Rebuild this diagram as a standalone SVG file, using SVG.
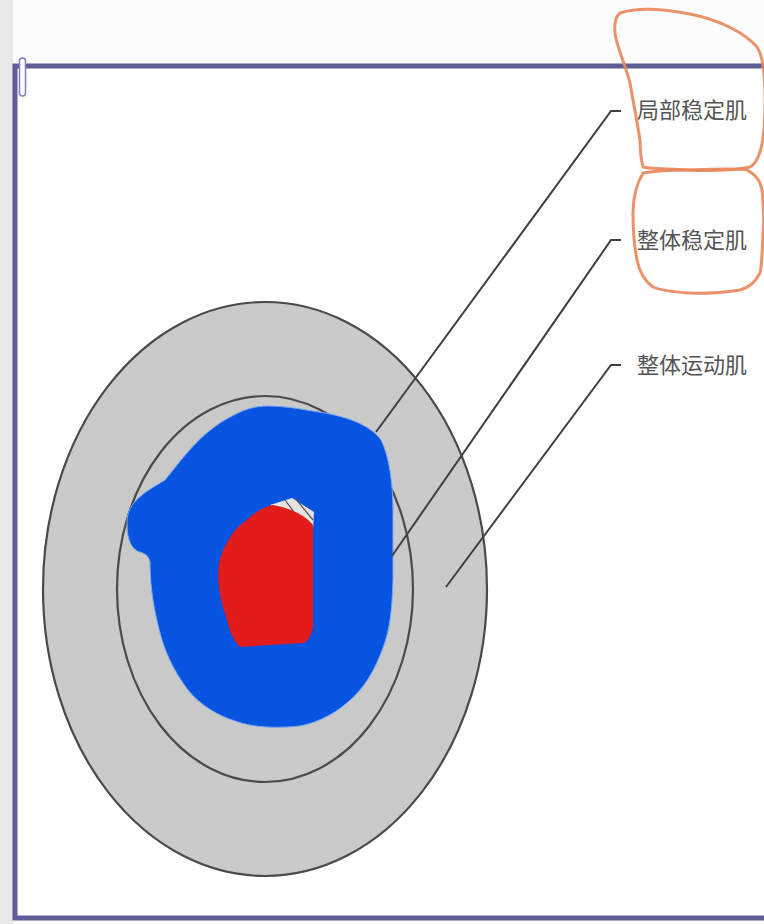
<svg xmlns="http://www.w3.org/2000/svg" width="764" height="924" viewBox="0 0 764 924">
<style>
.ring{stroke:#4a4a4a;stroke-width:2.2}
.lead{fill:none;stroke:#3f3f3f;stroke-width:2;stroke-linejoin:miter}
.lbl{font-family:"Noto Sans CJK SC","Noto Sans CJK JP",sans-serif;font-size:22px;fill:#555}
.loop{fill:none;stroke:#e8875a;stroke-width:3;stroke-linecap:round;stroke-linejoin:round;opacity:0.9}
</style>
<rect x="0" y="0" width="764" height="924" fill="#fcfcfc"/>
<rect x="0" y="0" width="13" height="924" fill="#e8e8e8"/>
<rect x="16" y="67" width="760" height="849" fill="#ffffff"/>
<g id="frame">
<rect x="15" y="66" width="770" height="852" fill="none" stroke="#5e5e96" stroke-width="5"/>
<rect x="19.5" y="58" width="6" height="38" rx="3" fill="#fff" stroke="#7c7cc4" stroke-width="1.5"/>
</g>
<g id="outer-ring">
<ellipse cx="265" cy="589" rx="222" ry="287" fill="#cacaca" class="ring"/>
</g>
<g id="inner-ring">
<ellipse cx="265" cy="589" rx="148" ry="193" fill="#c9c9c9" class="ring"/>
</g>
<g id="core">
<path d="M127,522 C127,502 145,492 165,480 C180,462 200,432 232,416 C245,409 255,406 268,406 C285,406 300,409 325,413 C352,418 372,427 381,440 C389,456 393,482 393,513 L393,580 C392,610 390,628 384,645 C376,668 365,688 348,702 C332,716 310,727 287,727 C265,728 250,726 238,722 C218,716 200,705 188,690 C175,672 165,655 158,625 C152,600 150,580 150,562 C148,553 142,553 137,551 C129,546 127,535 127,522 Z" fill="#0654e0" stroke="#7aa8f0" stroke-width="1"/>
<path d="M270,505 L292,498 L314,512 L313,530 L300,528 Z" fill="#e4e4e4"/>
<path d="M285,500 L306,528 M295,498 L313,520" stroke="#555" stroke-width="1.2" fill="none"/>
<path d="M273,505 C290,508 305,515 313,525 L313,627 C311,637 307,642 303,643 L240,647 C233,640 229,630 227,620 C222,605 218,590 218,573 C219,560 222,550 227,543 C232,533 238,526 243,523 C253,514 262,507 273,505 Z" fill="#e21b1b"/>
</g>
<g id="connectors">
<polyline class="lead" points="621,111 611,111 376,432"/>
<polyline class="lead" points="621,240 611,240 392,556"/>
<polyline class="lead" points="621,365 611,365 446,587"/>
</g>
<g id="label-local">
<text class="lbl" x="637" y="118">局部稳定肌</text>
</g>
<g id="label-global-stab">
<text class="lbl" x="637" y="248">整体稳定肌</text>
</g>
<g id="label-global-move">
<text class="lbl" x="637" y="373">整体运动肌</text>
</g>
<g id="annotations">
<path class="loop" d="M620,13 C635,8 660,8 690,14 C720,20 745,33 757,47 C766,60 766,100 764,130 C762,150 758,163 750,167 C730,171 700,171 690,170 C670,169 650,169 643,167 C640,155 640,145 640,140 C636,115 632,95 630,83 C624,60 616,45 615,33 C614,22 616,16 620,13 Z"/>
<path class="loop" d="M643,173 C660,170 680,170 690,170 C715,169 735,168 747,170 C756,175 760,180 762,190 C764,210 764,225 763,233 C762,255 762,265 760,273 C755,283 748,288 740,290 C720,293 705,294 690,293 C675,292 662,291 653,287 C643,280 639,270 637,260 C634,245 633,230 633,213 C633,198 636,185 643,173 Z"/>
</g>
</svg>
